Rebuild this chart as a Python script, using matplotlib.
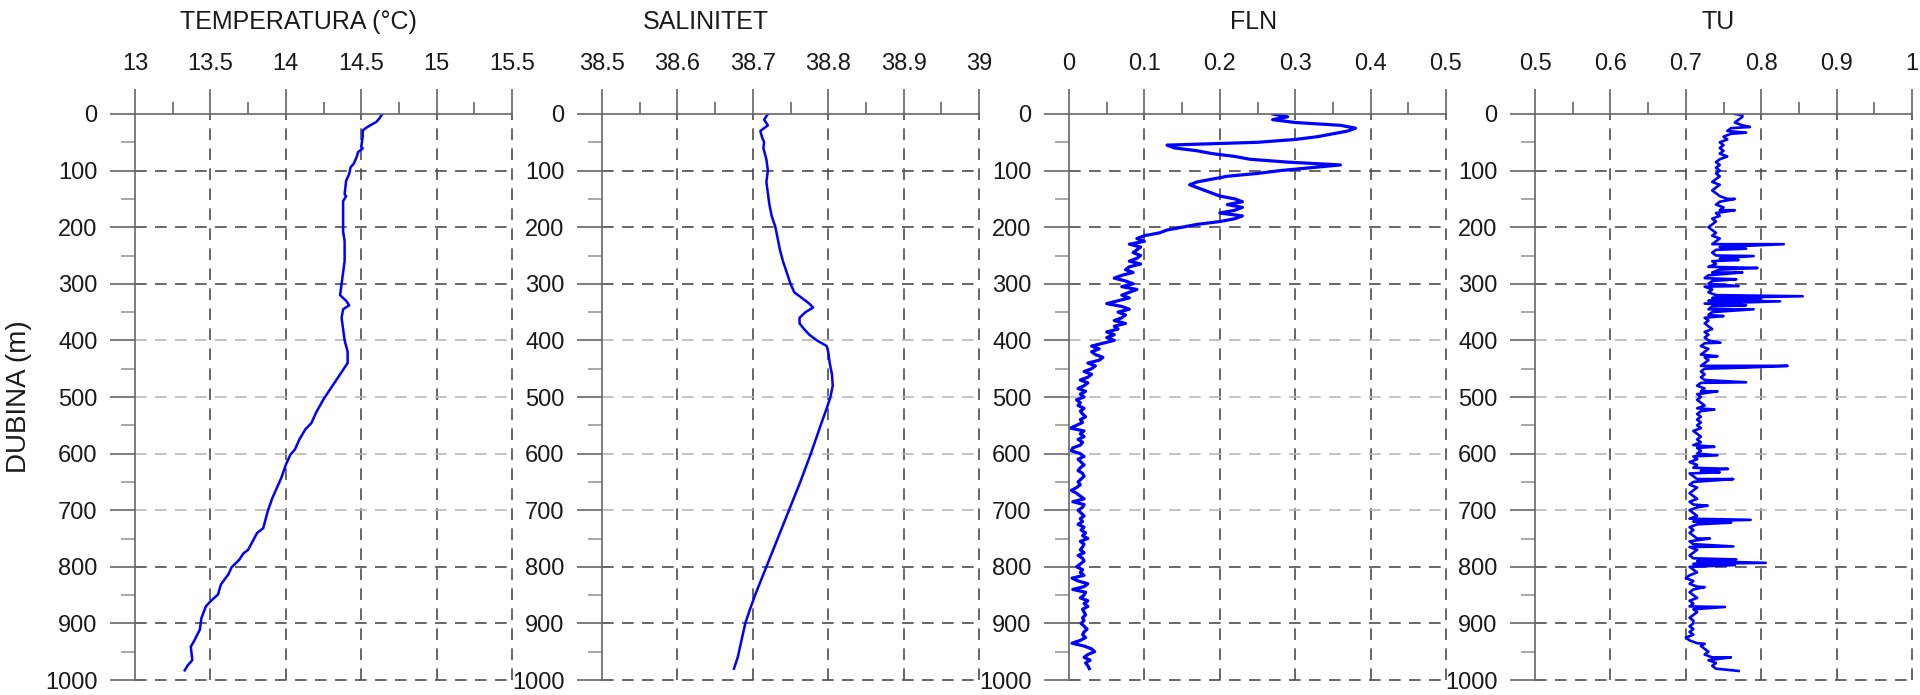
import numpy as np
import matplotlib
matplotlib.use("Agg")
import matplotlib.pyplot as plt
from matplotlib.ticker import FixedLocator, FixedFormatter

plt.rcParams["font.family"] = ["Liberation Sans", "DejaVu Sans"]

# ---------------- data ----------------
titles = ["TEMPERATURA (°C)", "SALINITET", "FLN", "TU"]
y_label = "DUBINA (m)"

depth_ticks = [0, 100, 200, 300, 400, 500, 600, 700, 800, 900, 1000]
depth_tick_labels = ["0", "100", "200", "300", "400", "500", "600", "700", "800", "900", "1000"]
depth_minor_ticks = [50, 150, 250, 350, 450, 550, 650, 750, 850, 950]

temp_ticks = [13.0, 13.5, 14.0, 14.5, 15.0, 15.5]
temp_tick_labels = ["13", "13.5", "14", "14.5", "15", "15.5"]
sal_ticks = [38.5, 38.6, 38.7, 38.8, 38.9, 39.0]
sal_tick_labels = ["38.5", "38.6", "38.7", "38.8", "38.9", "39"]
fln_ticks = [0.0, 0.1, 0.2, 0.3, 0.4, 0.5]
fln_tick_labels = ["0", "0.1", "0.2", "0.3", "0.4", "0.5"]
tu_ticks = [0.5, 0.6, 0.7, 0.8, 0.9, 1.0]
tu_tick_labels = ["0.5", "0.6", "0.7", "0.8", "0.9", "1"]

temp_depth = [0, 8, 14, 20, 25, 29, 40, 58, 61, 67,
              76, 88, 94, 106, 118, 142, 145, 154, 177, 207,
              225, 260, 300, 320, 330, 338, 345, 360, 380, 400,
              420, 440, 460, 480, 504, 528, 546, 557, 575, 593,
              602, 620, 643, 667, 679, 702, 732, 740, 755, 770,
              776, 788, 801, 813, 831, 849, 861, 870, 891, 911,
              932, 941, 965, 974, 983]
temp_values = [14.64, 14.62, 14.60, 14.56, 14.53, 14.51, 14.51, 14.50, 14.51, 14.48,
               14.47, 14.45, 14.43, 14.42, 14.40, 14.39, 14.40, 14.38, 14.38, 14.38,
               14.39, 14.39, 14.37, 14.36, 14.40, 14.42, 14.38, 14.37, 14.38, 14.39,
               14.41, 14.41, 14.36, 14.31, 14.25, 14.20, 14.17, 14.13, 14.09, 14.06,
               14.03, 14.00, 13.97, 13.93, 13.91, 13.88, 13.85, 13.81, 13.78, 13.75,
               13.72, 13.69, 13.64, 13.62, 13.57, 13.55, 13.50, 13.47, 13.44, 13.43,
               13.39, 13.37, 13.38, 13.35, 13.33]

sal_depth = [0, 10, 20, 30, 40, 50, 60, 70, 80, 100,
             120, 140, 160, 180, 200, 220, 240, 260, 280, 300,
             315, 325, 335, 342, 350, 360, 370, 380, 390, 400,
             410, 420, 440, 460, 480, 500, 520, 550, 600, 650,
             700, 750, 800, 850, 880, 900, 930, 960, 980]
sal_values = [38.720, 38.715, 38.720, 38.710, 38.712, 38.715, 38.714, 38.716, 38.718, 38.720,
              38.718, 38.720, 38.722, 38.725, 38.730, 38.733, 38.736, 38.740, 38.745, 38.750,
              38.755, 38.765, 38.775, 38.780, 38.770, 38.762, 38.762, 38.768, 38.775, 38.785,
              38.798, 38.800, 38.802, 38.805, 38.806, 38.803, 38.798, 38.790, 38.777, 38.763,
              38.748, 38.733, 38.718, 38.703, 38.695, 38.690, 38.685, 38.680, 38.675]

# FLN and TU sampled every 5 m from 0 to 980 m
fln_depth = list(range(0, 985, 5))
fln_values = [
    0.27, 0.29, 0.27, 0.30, 0.36, 0.38, 0.37, 0.35, 0.33, 0.30,
    0.25, 0.13, 0.14, 0.17, 0.19, 0.22, 0.24, 0.29, 0.36, 0.32,
    0.28, 0.25, 0.21, 0.19, 0.17, 0.16, 0.17, 0.18, 0.19, 0.20,
    0.22, 0.23, 0.21, 0.23, 0.22, 0.20, 0.23, 0.22, 0.20, 0.17,
    0.15, 0.13, 0.12, 0.10, 0.09, 0.10, 0.08, 0.095, 0.09, 0.085,
    0.095, 0.09, 0.08, 0.095, 0.08, 0.075, 0.085, 0.07, 0.06, 0.075,
    0.085, 0.07, 0.09, 0.08, 0.07, 0.08, 0.065, 0.05, 0.07, 0.08,
    0.065, 0.075, 0.07, 0.06, 0.075, 0.06, 0.065, 0.05, 0.06, 0.05,
    0.06, 0.045, 0.03, 0.04, 0.03, 0.035, 0.045, 0.04, 0.025, 0.035,
    0.03, 0.02, 0.03, 0.025, 0.015, 0.025, 0.02, 0.012, 0.022, 0.015,
    0.02, 0.01, 0.015, 0.012, 0.02, 0.015, 0.018, 0.022, 0.015, 0.018,
    0.01, 0.002, 0.02, 0.015, 0.02, 0.012, 0.018, 0.015, 0.005, 0.003,
    0.015, 0.02, 0.012, 0.016, 0.02, 0.015, 0.012, 0.018, 0.02, 0.016,
    0.012, 0.015, 0.01, 0.003, 0.01, 0.015, 0.02, 0.005, 0.02, 0.018,
    0.012, 0.016, 0.02, 0.015, 0.018, 0.012, 0.02, 0.016, 0.022, 0.018,
    0.025, 0.015, 0.02, 0.018, 0.015, 0.02, 0.012, 0.018, 0.02, 0.015,
    0.01, 0.018, 0.015, 0.02, 0.004, 0.012, 0.025, 0.02, 0.005, 0.022,
    0.02, 0.015, 0.025, 0.02, 0.025, 0.018, 0.02, 0.022, 0.018, 0.02,
    0.016, 0.02, 0.024, 0.02, 0.018, 0.022, 0.015, 0.004, 0.02, 0.03,
    0.034, 0.025, 0.02, 0.028, 0.022, 0.025, 0.027]

tu_depth = list(range(0, 985, 5))
tu_values = [
    0.765, 0.775, 0.770, 0.765, 0.775, 0.760, 0.755, 0.760, 0.750, 0.755,
    0.745, 0.750, 0.745, 0.750, 0.745, 0.755, 0.745, 0.740, 0.745, 0.740,
    0.745, 0.740, 0.745, 0.740, 0.735, 0.745, 0.740, 0.735, 0.740, 0.745,
    0.755, 0.745, 0.740, 0.750, 0.745, 0.740, 0.745, 0.735, 0.740, 0.735,
    0.730, 0.735, 0.740, 0.735, 0.745, 0.740, 0.735, 0.745, 0.740, 0.735,
    0.740, 0.745, 0.735, 0.740, 0.730, 0.745, 0.735, 0.730, 0.725, 0.735,
    0.730, 0.725, 0.735, 0.730, 0.740, 0.735, 0.730, 0.725, 0.735, 0.730,
    0.735, 0.730, 0.725, 0.730, 0.725, 0.730, 0.735, 0.725, 0.730, 0.725,
    0.730, 0.725, 0.720, 0.730, 0.725, 0.720, 0.725, 0.730, 0.725, 0.720,
    0.725, 0.720, 0.725, 0.720, 0.725, 0.720, 0.715, 0.725, 0.720, 0.715,
    0.720, 0.715, 0.720, 0.725, 0.715, 0.720, 0.715, 0.720, 0.715, 0.720,
    0.715, 0.720, 0.710, 0.715, 0.720, 0.715, 0.720, 0.710, 0.715, 0.720,
    0.715, 0.710, 0.715, 0.705, 0.715, 0.710, 0.720, 0.705, 0.710, 0.715,
    0.710, 0.705, 0.715, 0.710, 0.705, 0.710, 0.715, 0.705, 0.710, 0.715,
    0.705, 0.710, 0.715, 0.705, 0.710, 0.715, 0.705, 0.710, 0.705, 0.710,
    0.715, 0.705, 0.710, 0.705, 0.715, 0.710, 0.705, 0.710, 0.715, 0.710,
    0.705, 0.710, 0.715, 0.705, 0.700, 0.710, 0.705, 0.715, 0.710, 0.705,
    0.710, 0.715, 0.705, 0.710, 0.705, 0.710, 0.715, 0.710, 0.705, 0.710,
    0.710, 0.705, 0.710, 0.705, 0.710, 0.700, 0.705, 0.715, 0.720, 0.725,
    0.730, 0.725, 0.735, 0.730, 0.740, 0.735, 0.740]
tu_spike_depth = [2, 23, 33, 150, 170, 230, 238, 251, 258, 272,
                  280, 292, 304, 322, 327, 331, 338, 345, 357, 404,
                  428, 445, 448, 474, 490, 522, 588, 603, 627, 633,
                  645, 692, 717, 722, 750, 764, 787, 793, 797, 836,
                  871, 936, 960, 984]
tu_spike_values = [0.775, 0.785, 0.780, 0.765, 0.765, 0.830, 0.780, 0.790, 0.770, 0.795,
                   0.775, 0.767, 0.770, 0.855, 0.800, 0.825, 0.780, 0.790, 0.750, 0.746,
                   0.742, 0.835, 0.780, 0.780, 0.742, 0.738, 0.738, 0.742, 0.756, 0.745,
                   0.763, 0.729, 0.786, 0.760, 0.732, 0.763, 0.767, 0.806, 0.765, 0.725,
                   0.752, 0.725, 0.760, 0.770]

# ---------------- figure ----------------
W, H = 1920, 695
fig = plt.figure(figsize=(W / 100, H / 100), dpi=100)

axis_left_px = [135, 602, 1069, 1535]
axis_w_px = 377
axis_top_px, axis_bot_px = 114, 680
title_center_px = [298, 706, 1254, 1718]
line_widths = [1.8, 1.8, 2.3, 1.9]

line_color = "#0000ff"
spine_color = "#666666"
grid_dark = "#4d4d4d"
grid_light = "#b8b8b8"
label_color = "#1a1a1a"
hgrid_colors = [grid_dark, grid_dark, grid_dark, grid_light, grid_light,
                grid_light, grid_light, grid_dark, grid_dark, grid_dark]

tu_d = np.array(tu_depth + tu_spike_depth, dtype=float)
tu_v = np.array(tu_values + tu_spike_values, dtype=float)
order = np.argsort(tu_d, kind="stable")

panels = [
    (temp_values, temp_depth, temp_ticks, temp_tick_labels),
    (sal_values, sal_depth, sal_ticks, sal_tick_labels),
    (fln_values, fln_depth, fln_ticks, fln_tick_labels),
    (list(tu_v[order]), list(tu_d[order]), tu_ticks, tu_tick_labels),
]

for i, (vals, dep, ticks, tlabels) in enumerate(panels):
    left = axis_left_px[i] / W
    bottom = (H - axis_bot_px) / H
    ax = fig.add_axes([left, bottom, axis_w_px / W, (axis_bot_px - axis_top_px) / H])
    ax.set_xlim(ticks[0], ticks[-1])
    ax.set_ylim(1000, 0)

    for s in ["right", "bottom"]:
        ax.spines[s].set_visible(False)
    for s in ["left", "top"]:
        ax.spines[s].set_color(spine_color)
        ax.spines[s].set_linewidth(1.2)
        ax.spines[s].set_zorder(4)

    ax.xaxis.tick_top()
    ax.xaxis.set_major_locator(FixedLocator(ticks))
    ax.xaxis.set_major_formatter(FixedFormatter(tlabels))
    minor_x = [(ticks[k] + ticks[k + 1]) / 2 for k in range(len(ticks) - 1)]
    ax.xaxis.set_minor_locator(FixedLocator(minor_x))

    ax.yaxis.set_major_locator(FixedLocator(depth_ticks))
    ax.yaxis.set_major_formatter(FixedFormatter(depth_tick_labels))
    ax.yaxis.set_minor_locator(FixedLocator(depth_minor_ticks))

    ax.tick_params(axis="x", which="major", direction="out", length=18, width=1.2,
                   color=spine_color, pad=10, labelsize=17, labelcolor=label_color)
    ax.tick_params(axis="x", which="minor", direction="out", length=9, width=1.2,
                   color=spine_color)
    ax.tick_params(axis="y", which="major", direction="out", length=18, width=1.2,
                   color=spine_color, pad=9, labelsize=17, labelcolor=label_color)
    ax.tick_params(axis="y", which="minor", direction="out", length=10, width=1.2,
                   color="#999999")

    yt = ax.yaxis.get_major_ticks()
    for k, t in enumerate(yt[1:]):
        t.tick1line.set_color(hgrid_colors[k])

    # dashed grid
    for x in ticks[1:]:
        ax.axvline(x, color=grid_dark, lw=1.2, dashes=(7, 5), clip_on=False, zorder=1)
    for k, y in enumerate(depth_ticks[1:]):
        ax.axhline(y, color=hgrid_colors[k], lw=1.2, dashes=(7, 5), clip_on=False, zorder=1)

    ax.plot(vals, dep, color=line_color, lw=line_widths[i], zorder=3)

    fig.text(title_center_px[i] / W, 1 - 22 / H, titles[i], ha="center", va="center",
             fontsize=18, color=label_color)

fig.text(19 / W, 1 - 397 / H, y_label, rotation=90, ha="center", va="center",
         fontsize=20, color=label_color)

fig.savefig("out.png", dpi=100)
